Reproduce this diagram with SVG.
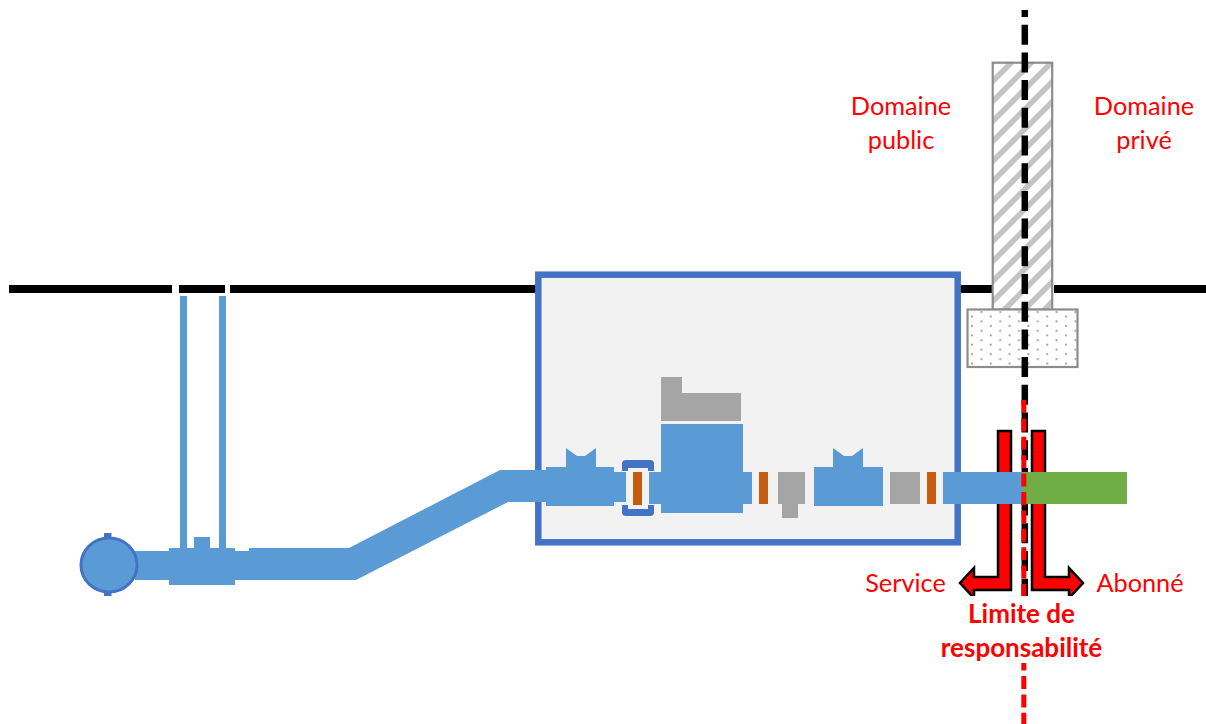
<svg xmlns="http://www.w3.org/2000/svg" width="1206" height="724" viewBox="0 0 1206 724">
<style>
.ground{fill:#000}
.pipe{fill:#5b9bd5}
.grey{fill:#a5a5a5}
.orange{fill:#c55a11}
.bg{fill:#f2f2f2}
.lbl{font-family:Lato,"Liberation Sans",sans-serif;font-size:25.300px;fill:#ff0000;text-anchor:middle}
.bold{font-weight:700;font-size:26px}
.arrow{fill:#ff0000;stroke:#000;stroke-width:2.500;stroke-linejoin:miter}
.hatchbox{stroke:#8c8c8c;stroke-width:2.200}
</style>
<defs>
<pattern id="hatch" width="20" height="20" patternUnits="userSpaceOnUse" patternTransform="translate(992 62)">
<rect width="20" height="20" fill="#fff"/>
<path d="M-5 5L5 -5M0 20L20 0M15 25L25 15" stroke="#c4c4c4" stroke-width="5.500"/>
</pattern>
<pattern id="dots" width="18.800" height="9.400" patternUnits="userSpaceOnUse" patternTransform="translate(968 310)">
<rect width="18.800" height="9.400" fill="#fff"/>
<rect x="3" y="5.500" width="2" height="2" fill="#a6a6a6"/>
<rect x="12.400" y="1" width="2" height="2" fill="#a6a6a6"/>
</pattern>
</defs>
<rect width="1206" height="724" fill="#fff"/>
<g id="ground">
<rect class="ground" x="9" y="285" width="163" height="8"/>
<rect class="ground" x="179" y="285" width="46" height="8"/>
<rect class="ground" x="230" y="285" width="308" height="8"/>
<rect class="ground" x="958" y="285" width="36" height="8"/>
<rect class="ground" x="1054" y="285" width="152" height="8"/>
</g>
<g id="wall"><rect class="hatchbox" x="992.700" y="62.700" width="59.500" height="247" fill="url(#hatch)"/></g>
<g id="footing"><rect class="hatchbox" x="967.500" y="309.500" width="110" height="57.500" fill="url(#dots)"/></g>
<g id="chamber"><rect x="538.300" y="274.700" width="419.400" height="267.600" fill="#f2f2f2" stroke="#4472c4" stroke-width="6.500"/></g>
<g id="main-pipe">
<rect class="pipe" x="180" y="296" width="7" height="254"/>
<rect class="pipe" x="219" y="296" width="7" height="254"/>
<rect class="pipe" x="135" y="551" width="115" height="29"/>
<rect class="pipe" x="169" y="548" width="66" height="37"/>
<rect class="pipe" x="194" y="537" width="16" height="12"/>
<path class="pipe" d="M249 548L349 548L500 470L546 470L546 502L508 502L356 580L249 580Z"/>
<rect x="104" y="533" width="7.500" height="6" fill="#4472c4"/>
<rect x="104" y="590" width="7.500" height="6" fill="#4472c4"/>
<ellipse cx="109" cy="565" rx="28" ry="27" fill="#5b9bd5" stroke="#4472c4" stroke-width="3"/>
</g>
<g id="valve-left">
<path class="pipe" d="M566 448L577 456H585L596 448V470H566Z"/>
<rect class="pipe" x="546" y="467" width="68" height="39"/>
<rect class="pipe" x="614" y="472" width="12" height="30"/>
</g>
<g id="coupling">
<rect x="622" y="460" width="32" height="56" rx="4" fill="#4472c4"/>
<rect class="bg" x="621" y="471" width="34" height="34"/>
<rect class="bg" x="628" y="468" width="20" height="41"/>
<rect class="pipe" x="614" y="472" width="12" height="30"/>
<rect class="orange" x="633" y="472" width="9" height="33"/>
</g>
<g id="meter">
<path class="grey" d="M661 377H682V393H741V421H661Z"/>
<rect class="pipe" x="649" y="472" width="103" height="32"/>
<rect class="pipe" x="661" y="424" width="82" height="89"/>
</g>
<g id="fittings">
<rect class="orange" x="759" y="472" width="9" height="32"/>
<path class="grey" d="M778 472H805V504H798V518H782V504H778Z"/>
<path class="pipe" d="M833 448L844 456H852L863 448V470H833Z"/>
<rect class="pipe" x="814" y="467" width="69" height="39"/>
<rect class="grey" x="890" y="472" width="30" height="32"/>
<rect class="orange" x="927" y="472" width="9" height="32"/>
</g>
<g id="connectors">
<path d="M1024.800 10V596" fill="none" stroke="#000" stroke-width="6.500" stroke-dasharray="20 7.700" stroke-dashoffset="13"/>
<path class="arrow" d="M998 431H1011V590H974V598L960 583L974 568V577H998Z"/>
<path class="arrow" d="M1045 431H1032V590H1069V598L1083 583L1069 568V577H1045Z"/>
<rect class="pipe" x="943" y="472" width="80" height="32"/>
<rect x="1023" y="472" width="104" height="32" fill="#70ad47"/>
<path d="M1023.800 400V724" fill="none" stroke="#f00" stroke-width="5" stroke-dasharray="13 5.400"/>
<rect x="940" y="596" width="165" height="67" fill="#fff"/>
</g>
<g id="labels">
<text class="lbl" x="901" y="115">Domaine</text>
<text class="lbl" x="901" y="149">public</text>
<text class="lbl" x="1144" y="115">Domaine</text>
<text class="lbl" x="1144" y="149">privé</text>
<text class="lbl" x="905.500" y="592">Service</text>
<text class="lbl" x="1140" y="592">Abonné</text>
<text class="lbl bold" x="1021.500" y="623">Limite de</text>
<text class="lbl bold" x="1021.500" y="657">responsabilité</text>
</g>
</svg>
